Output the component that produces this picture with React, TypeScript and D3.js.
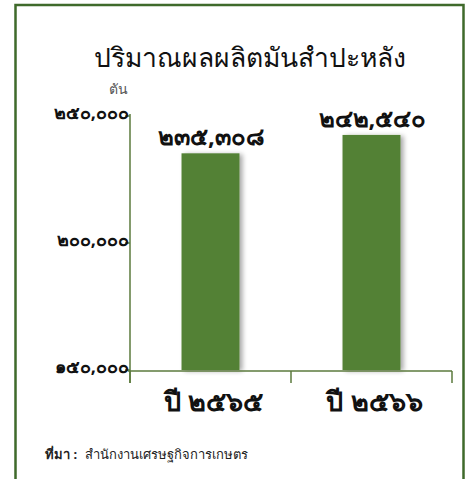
import React from "react";
import * as d3 from "d3";

const categories = ["ปี ๒๕๖๕", "ปี ๒๕๖๖"];
const values = [235308, 242540];
const valueLabels = ["๒๓๕,๓๐๘", "๒๔๒,๕๔๐"];
const yTicks = [150000, 200000, 250000];
const yTickLabels = ["๑๕๐,๐๐๐", "๒๐๐,๐๐๐", "๒๕๐,๐๐๐"];
const title = "ปริมาณผลผลิตมันสำปะหลัง";
const unit = "ตัน";
const sourceLabel = "ที่มา :";
const sourceText = "สำนักงานเศรษฐกิจการเกษตร";

const W = 468;
const H = 479;
const GREEN = "#538135";
const AXIS = "#5b7a3c";
const FONT = "'Noto Sans', 'DejaVu Sans', sans-serif";

export default function App() {
  const x = d3
    .scaleBand<string>()
    .domain(categories)
    .range([130, 452])
    .paddingInner(0.64)
    .paddingOuter(0.32);
  const y = d3.scaleLinear().domain([150000, 250000]).range([370, 116]);
  const step = x.step();
  const bounds = d3.range(categories.length + 1).map((i) => 130 + i * step);

  return (
    <svg
      width={W}
      height={H}
      style={{ position: "absolute", left: 0, top: 0, background: "#fff" }}
    >
      <defs>
        <filter id="sh" x="-20%" y="-5%" width="150%" height="110%">
          <feGaussianBlur in="SourceAlpha" stdDeviation="2.5" />
          <feOffset dx="3" dy="1" result="b" />
          <feComponentTransfer>
            <feFuncA type="linear" slope="0.35" />
          </feComponentTransfer>
          <feMerge>
            <feMergeNode />
            <feMergeNode in="SourceGraphic" />
          </feMerge>
        </filter>
      </defs>
      <rect x={0} y={0} width={W} height={H} fill="#fff" />
      <rect
        x={15.5}
        y={5}
        width={448}
        height={H + 20}
        fill="none"
        stroke="#3f6a2b"
        strokeWidth={2.5}
      />
      <text
        x={250}
        y={67}
        textAnchor="middle"
        fontFamily={FONT}
        fontSize={26.5}
        fill="#111"
      >
        {title}
      </text>
      <text x={109} y={94} fontFamily={FONT} fontSize={14} fill="#555">
        {unit}
      </text>

      {/* bars */}
      {categories.map((c, i) => (
        <rect
          key={c}
          x={x(c)}
          y={y(values[i])}
          width={x.bandwidth()}
          height={y(150000) - y(values[i])}
          fill={GREEN}
          filter="url(#sh)"
        />
      ))}

      {/* axes */}
      <line x1={130} x2={130} y1={y(250000) - 2} y2={383} stroke={AXIS} strokeWidth={1.5} />
      <line x1={128} x2={452} y1={371} y2={371} stroke={AXIS} strokeWidth={1.5} />
      {bounds.map((b, i) => (
        <line key={i} x1={b} x2={b} y1={371} y2={383} stroke={AXIS} strokeWidth={1.5} />
      ))}
      {yTicks.map((t) => (
        <line key={t} x1={125} x2={130} y1={y(t)} y2={y(t)} stroke={AXIS} strokeWidth={1.5} />
      ))}
      {yTicks.map((t, i) => (
        <text
          key={t}
          x={129}
          y={y(t) + 3}
          textAnchor="end"
          fontFamily={FONT}
          fontWeight="bold"
          fontSize={18}
          fill="#111"
        >
          {yTickLabels[i]}
        </text>
      ))}

      {/* value labels */}
      {categories.map((c, i) => (
        <text
          key={c}
          x={(x(c) as number) + x.bandwidth() / 2 + 1}
          y={y(values[i]) - 8}
          textAnchor="middle"
          fontFamily={FONT}
          fontWeight="bold"
          fontSize={24}
          fill="#111"
        >
          {valueLabels[i]}
        </text>
      ))}

      {/* category labels */}
      {categories.map((c) => (
        <text
          key={c}
          x={(x(c) as number) + x.bandwidth() / 2 + 3}
          y={411}
          textAnchor="middle"
          fontFamily={FONT}
          fontWeight="bold"
          fontSize={27}
          fill="#111"
        >
          {c}
        </text>
      ))}

      {/* source */}
      <text x={45} y={459} fontFamily={FONT} fontSize={13} fill="#222">
        <tspan fontWeight="bold">{sourceLabel}</tspan>
        <tspan x={85}>{sourceText}</tspan>
      </text>
    </svg>
  );
}
